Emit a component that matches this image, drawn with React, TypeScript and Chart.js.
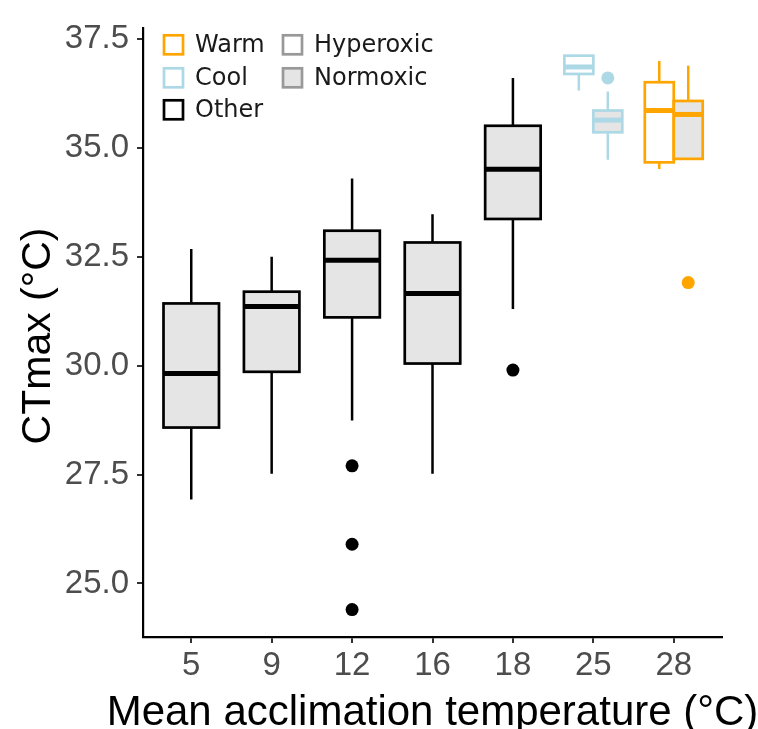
import React, { useEffect, useRef } from 'react';
import { Chart, registerables } from 'chart.js';

Chart.register(...registerables);

// Mean acclimation temperature groups (°C)
const categories = ['5', '9', '12', '16', '18', '25', '28'];
const yTickValues = [25, 27.5, 30, 32.5, 35, 37.5];

// "Other" studies, normoxic, acclimation 5–18 °C
const otherMin = [26.93, 27.52, 28.74, 27.52, 31.3];
const otherQ1 = [28.58, 29.86, 31.11, 30.05, 33.37];
const otherMedian = [29.82, 31.36, 32.42, 31.66, 34.51];
const otherQ3 = [31.43, 31.7, 33.1, 32.83, 35.51];
const otherMax = [32.68, 32.5, 34.3, 33.48, 36.61];
const otherOutliers = [[], [], [27.7, 25.9, 24.4], [], [29.9]];

// Cool (25 °C): [hyperoxic, normoxic]
const coolMin = [36.32, 34.73];
const coolQ1 = [36.7, 35.36];
const coolMedian = [36.86, 35.64];
const coolQ3 = [37.12, 35.86];
const coolMax = [37.12, 36.3];
const coolOutliers = [[], [36.61]];

// Warm (28 °C): [hyperoxic, normoxic]
const warmMin = [34.52, 34.75];
const warmQ1 = [34.67, 34.75];
const warmMedian = [35.86, 35.77];
const warmQ3 = [36.51, 36.08];
const warmMax = [37.0, 36.89];
const warmOutliers = [[], [31.91]];

const groupLabels = ['Warm', 'Cool', 'Other'];
const oxygenLabels = ['Hyperoxic', 'Normoxic'];
const xTitle = 'Mean acclimation temperature (°C)';
const yTitle = 'CTmax (°C)';

const WARM = '#FFA500';
const COOL = '#ADD8E6';
const OTHER = '#000000';
const GREY_FILL = '#E5E5E5';
const groupColors = [WARM, COOL, OTHER];

const AXIS_FONT = '"Liberation Sans", Arial, sans-serif';
const LEGEND_FONT = '"DejaVu Sans", sans-serif';

type Box = {
  pos: number;
  width: number;
  min: number;
  q1: number;
  median: number;
  q3: number;
  max: number;
  stroke: string;
  fill: string;
};

const boxes: Box[] = [];
for (let i = 0; i < otherMedian.length; i++) {
  boxes.push({
    pos: i, width: 0.69,
    min: otherMin[i], q1: otherQ1[i], median: otherMedian[i], q3: otherQ3[i], max: otherMax[i],
    stroke: OTHER, fill: GREY_FILL,
  });
}
const dodge = [-0.18, 0.18];
const oxygenFill = ['#FFFFFF', GREY_FILL];
[0, 1].forEach((k) => {
  boxes.push({
    pos: 5 + dodge[k], width: 0.36,
    min: coolMin[k], q1: coolQ1[k], median: coolMedian[k], q3: coolQ3[k], max: coolMax[k],
    stroke: COOL, fill: oxygenFill[k],
  });
  boxes.push({
    pos: 6 + dodge[k], width: 0.36,
    min: warmMin[k], q1: warmQ1[k], median: warmMedian[k], q3: warmQ3[k], max: warmMax[k],
    stroke: WARM, fill: oxygenFill[k],
  });
});

const otherPoints = otherOutliers.flatMap((vals, i) => vals.map((v) => ({ x: i, y: v })));
const coolPoints = coolOutliers.flatMap((vals, k) => vals.map((v) => ({ x: 5 + dodge[k], y: v })));
const warmPoints = warmOutliers.flatMap((vals, k) => vals.map((v) => ({ x: 6 + dodge[k], y: v })));

// Box-and-whisker glyphs drawn through the chart's own x/y scales
const boxPlugin = {
  id: 'boxes',
  beforeDatasetsDraw(chart: any) {
    const { ctx, scales } = chart;
    const x = scales.x;
    const y = scales.y;
    ctx.save();
    ctx.lineCap = 'butt';
    boxes.forEach((b) => {
      const cx = x.getPixelForValue(b.pos);
      const half = (x.getPixelForValue(b.pos + b.width / 2) - x.getPixelForValue(b.pos - b.width / 2)) / 2;
      const yMin = y.getPixelForValue(b.min);
      const yQ1 = y.getPixelForValue(b.q1);
      const yMed = y.getPixelForValue(b.median);
      const yQ3 = y.getPixelForValue(b.q3);
      const yMax = y.getPixelForValue(b.max);
      ctx.strokeStyle = b.stroke;
      ctx.lineWidth = 2.5;
      ctx.beginPath();
      ctx.moveTo(cx, yQ3);
      ctx.lineTo(cx, yMax);
      ctx.moveTo(cx, yQ1);
      ctx.lineTo(cx, yMin);
      ctx.stroke();
      ctx.fillStyle = b.fill;
      ctx.fillRect(cx - half, yQ3, half * 2, yQ1 - yQ3);
      ctx.lineWidth = 2.7;
      ctx.strokeRect(cx - half, yQ3, half * 2, yQ1 - yQ3);
      ctx.lineWidth = 5;
      ctx.beginPath();
      ctx.moveTo(cx - half, yMed);
      ctx.lineTo(cx + half, yMed);
      ctx.stroke();
    });
    ctx.restore();
  },
};

// Axis titles and the two-column key
const annotationPlugin = {
  id: 'annotations',
  afterDraw(chart: any) {
    const { ctx, chartArea } = chart;
    const left = chartArea.left;
    const top = chartArea.top;
    ctx.save();

    ctx.fillStyle = '#000000';
    ctx.font = `42px ${AXIS_FONT}`;
    ctx.textAlign = 'center';
    ctx.textBaseline = 'alphabetic';
    ctx.fillText(xTitle, (chartArea.left + chartArea.right) / 2, 725);

    ctx.save();
    ctx.translate(50, 336);
    ctx.rotate(-Math.PI / 2);
    ctx.font = `41px ${AXIS_FONT}`;
    ctx.fillText(yTitle, 0, 0);
    ctx.restore();

    const rowY = [17, 50, 82];
    const size = 19;
    ctx.font = `24px ${LEGEND_FONT}`;
    ctx.textBaseline = 'middle';
    ctx.textAlign = 'left';
    groupLabels.forEach((label, i) => {
      const cy = top + rowY[i];
      ctx.fillStyle = '#FFFFFF';
      ctx.fillRect(left + 21, cy - size / 2, size, size);
      ctx.strokeStyle = groupColors[i];
      ctx.lineWidth = 2.7;
      ctx.strokeRect(left + 21, cy - size / 2, size, size);
      ctx.fillStyle = '#1A1A1A';
      ctx.fillText(label, left + 52, cy + 1);
    });
    oxygenLabels.forEach((label, i) => {
      const cy = top + rowY[i];
      ctx.fillStyle = oxygenFill[i];
      ctx.fillRect(left + 140, cy - size / 2, size, size);
      ctx.strokeStyle = '#999999';
      ctx.lineWidth = 2.7;
      ctx.strokeRect(left + 140, cy - size / 2, size, size);
      ctx.fillStyle = '#1A1A1A';
      ctx.fillText(label, left + 171, cy + 1);
    });
    ctx.restore();
  },
};

export default function App() {
  const canvasRef = useRef<HTMLCanvasElement | null>(null);

  useEffect(() => {
    const canvas = canvasRef.current;
    if (!canvas) return;
    const chart = new Chart(canvas, {
      type: 'scatter',
      data: {
        datasets: [
          { data: otherPoints, pointRadius: 6.5, pointBackgroundColor: OTHER, pointBorderWidth: 0, pointBorderColor: OTHER },
          { data: coolPoints, pointRadius: 6.5, pointBackgroundColor: COOL, pointBorderWidth: 0, pointBorderColor: COOL },
          { data: warmPoints, pointRadius: 6.5, pointBackgroundColor: WARM, pointBorderWidth: 0, pointBorderColor: WARM },
        ],
      },
      options: {
        responsive: false,
        animation: false,
        events: [],
        layout: { padding: { top: 22, right: 36, left: 0, bottom: 0 } },
        plugins: { legend: { display: false }, tooltip: { enabled: false } },
        scales: {
          x: {
            type: 'linear',
            min: -0.6,
            max: 6.6,
            afterBuildTicks: (scale: any) => {
              scale.ticks = categories.map((_, i) => ({ value: i }));
            },
            afterFit: (scale: any) => {
              scale.height = 92;
            },
            ticks: {
              autoSkip: false,
              maxRotation: 0,
              padding: 3,
              color: '#4D4D4D',
              font: { family: AXIS_FONT, size: 33 },
              callback: (v: any) => categories[Number(v)] ?? '',
            },
            grid: { drawOnChartArea: false, drawTicks: true, tickLength: 6, color: '#333333', lineWidth: 2 },
            border: { display: true, color: '#000000', width: 2.2 },
          },
          y: {
            type: 'linear',
            min: 23.77,
            max: 37.76,
            afterBuildTicks: (scale: any) => {
              scale.ticks = yTickValues.map((v) => ({ value: v }));
            },
            afterFit: (scale: any) => {
              scale.width = 143;
            },
            ticks: {
              padding: 8,
              color: '#4D4D4D',
              font: { family: AXIS_FONT, size: 33 },
              callback: (v: any) => Number(v).toFixed(1),
            },
            grid: { drawOnChartArea: false, drawTicks: true, tickLength: 6, color: '#333333', lineWidth: 2 },
            border: { display: true, color: '#000000', width: 2.2 },
          },
        },
      },
      plugins: [boxPlugin, annotationPlugin],
    });
    return () => chart.destroy();
  }, []);

  return (
    <div style={{ position: 'absolute', left: 0, top: 0, width: 758, height: 729, background: '#FFFFFF' }}>
      <canvas ref={canvasRef} width={758} height={729} />
    </div>
  );
}
